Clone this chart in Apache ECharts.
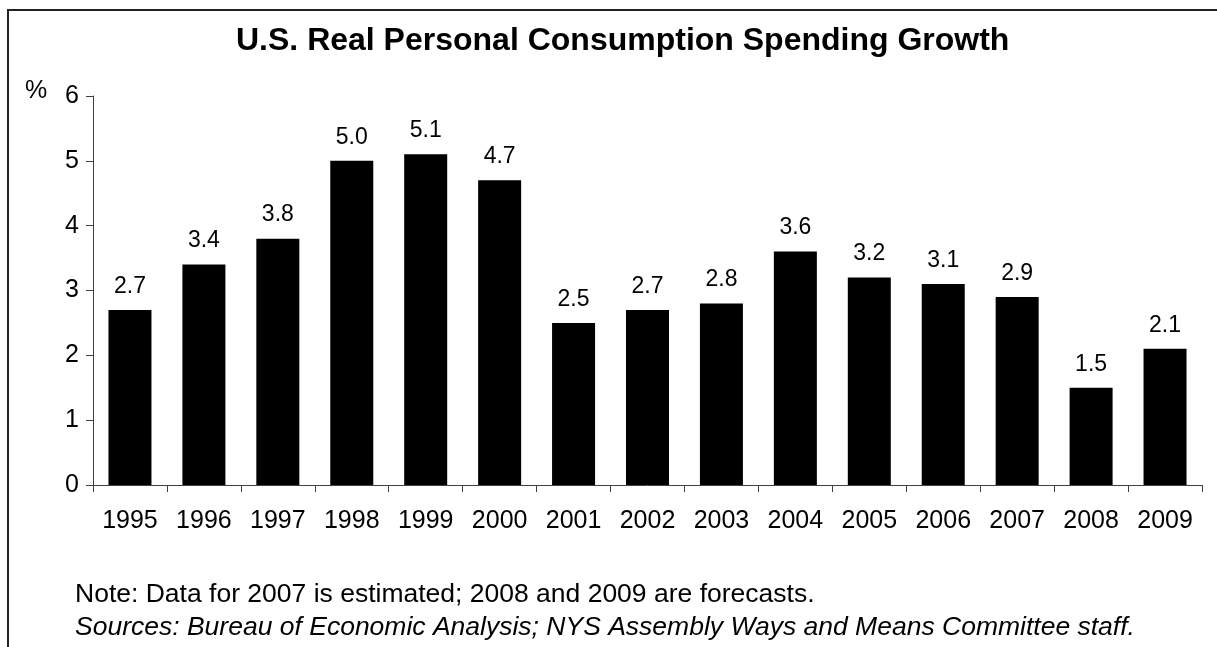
<!DOCTYPE html>
<html>
<head>
<meta charset="utf-8">
<script src="https://cdn.jsdelivr.net/npm/echarts@6/dist/echarts.min.js"></script>
<style>
  html, body { margin: 0; padding: 0; background: #fff; }
  #chart { width: 1217px; height: 647px; }
</style>
</head>
<body>
<div id="chart"></div>
<script>
// Annual real personal consumption spending growth, percent
const years = ['1995','1996','1997','1998','1999','2000','2001','2002','2003','2004','2005','2006','2007','2008','2009'];
const growth = [2.7, 3.4, 3.8, 5.0, 5.1, 4.7, 2.5, 2.7, 2.8, 3.6, 3.2, 3.1, 2.9, 1.5, 2.1];
const yTicks = [0, 1, 2, 3, 4, 5, 6];

const FONT = 'Arial, "Liberation Sans", sans-serif';

const chart = echarts.init(document.getElementById('chart'), null, { renderer: 'canvas' });

chart.setOption({
  backgroundColor: '#ffffff',
  animation: false,
  title: {
    text: 'U.S. Real Personal Consumption Spending Growth',
    left: 231,
    top: 20,
    textStyle: { fontFamily: FONT, fontSize: 32, fontWeight: 'bold', color: '#000' }
  },
  grid: { left: 93, right: 15, top: 96, bottom: 162 },
  xAxis: {
    type: 'category',
    data: years,
    axisLine: { lineStyle: { color: '#404040', width: 1 } },
    axisTick: { show: true, length: 7, lineStyle: { color: '#404040' } },
    axisLabel: { fontFamily: FONT, fontSize: 25, color: '#000', margin: 24 }
  },
  yAxis: {
    type: 'value',
    min: yTicks[0],
    max: yTicks[yTicks.length - 1],
    interval: 1,
    splitLine: { show: false },
    axisLine: { show: true, lineStyle: { color: '#404040', width: 1 } },
    axisTick: { show: true, length: 7, lineStyle: { color: '#404040' } },
    axisLabel: { fontFamily: FONT, fontSize: 25, color: '#000', margin: 14 }
  },
  series: [{
    type: 'bar',
    data: growth,
    barWidth: 43,
    itemStyle: { color: '#000' },
    label: {
      show: true,
      position: 'top',
      distance: 12,
      fontFamily: FONT,
      fontSize: 23,
      color: '#000',
      formatter: p => p.value.toFixed(1)
    }
  }],
  graphic: [
    {
      type: 'rect',
      shape: { x: 8, y: 10, width: 1300, height: 800 },
      style: { fill: 'none', stroke: '#222', lineWidth: 2 },
      silent: true
    },
    {
      type: 'text',
      left: 25, top: 79,
      style: { text: '%', font: '25px ' + FONT, fill: '#000' }
    },
    {
      type: 'text',
      left: 75, top: 581,
      style: { text: 'Note: Data for 2007 is estimated; 2008 and 2009 are forecasts.', font: '26.5px ' + FONT, fill: '#000' }
    },
    {
      type: 'text',
      left: 75, top: 614,
      style: { text: 'Sources: Bureau of Economic Analysis; NYS Assembly Ways and Means Committee staff.', font: 'italic 26.5px ' + FONT, fill: '#000' }
    }
  ]
});
</script>
</body>
</html>
